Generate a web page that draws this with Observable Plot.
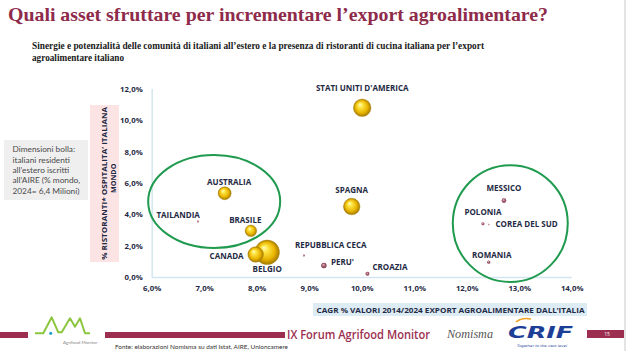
<!DOCTYPE html>
<html><head><meta charset="utf-8">
<script src="https://cdn.jsdelivr.net/npm/d3@7"></script>
<script src="https://cdn.jsdelivr.net/npm/@observablehq/plot@0.6"></script>
<style>
html,body{margin:0;padding:0;background:#fff;}
#wrap{position:relative;width:626px;height:351px;overflow:hidden;background:#fff;}
#deco{position:absolute;left:0;top:0;}
#chart{position:absolute;left:0;top:0;}
</style></head><body>
<div id="wrap">
<svg id="deco" width="626" height="351" xmlns="http://www.w3.org/2000/svg">
  <text x="8" y="21" font-family="Liberation Serif" font-weight="bold" font-size="19.5" fill="#8e2b4b" textLength="540" lengthAdjust="spacingAndGlyphs">Quali asset sfruttare per incrementare l’export agroalimentare?</text>
  <text x="32" y="49" font-family="Liberation Serif" font-weight="bold" font-size="11" fill="#1a1a1a" textLength="452" lengthAdjust="spacingAndGlyphs">Sinergie e potenzialità delle comunità di italiani all’estero e la presenza di ristoranti di cucina italiana per l’export</text>
  <text x="32" y="61" font-family="Liberation Serif" font-weight="bold" font-size="11" fill="#1a1a1a" textLength="92" lengthAdjust="spacingAndGlyphs">agroalimentare italiano</text>

  <rect x="4" y="140" width="84" height="60" fill="#efefef"/>
  <g font-family="Lato" font-size="8.3" fill="#4a4a4a">
    <text x="12.5" y="152">Dimensioni bolla:</text>
    <text x="12.5" y="162.5">italiani residenti</text>
    <text x="12.5" y="172.8">all’estero iscritti</text>
    <text x="12.5" y="183">all’AIRE (% mondo,</text>
    <text x="12.5" y="193.5">2024= 6,4 Milioni)</text>
  </g>

  <rect x="90" y="105" width="29" height="157" fill="#fce4e4"/>
  <text transform="translate(106.5,183.3) rotate(-90)" text-anchor="middle" font-family="Open Sans" font-weight="bold" font-size="7.2" fill="#1f2a44" textLength="153" lengthAdjust="spacingAndGlyphs">% RISTORANTI* OSPITALITA’ ITALIANA</text>
  <text transform="translate(115.5,178.3) rotate(-90)" text-anchor="middle" font-family="Open Sans" font-weight="bold" font-size="7.2" fill="#1f2a44">MONDO</text>

  <rect x="313" y="303" width="274" height="13" fill="#dcebf4"/>
  <text x="450.5" y="312.8" text-anchor="middle" font-family="Open Sans" font-weight="bold" font-size="7.8" fill="#1f2a44" textLength="268" lengthAdjust="spacingAndGlyphs">CAGR % VALORI 2014/2024 EXPORT AGROALIMENTARE  DALL’ITALIA</text>

  <rect x="0" y="332" width="28" height="6" fill="#9c2f4f"/>
  <rect x="105" y="332" width="180" height="6" fill="#9c2f4f"/>
  <rect x="587" y="330" width="39" height="8" fill="#9c2f4f"/>
  <text x="607" y="336" text-anchor="middle" font-family="Open Sans" font-size="5" fill="#fff">15</text>
  <text x="287" y="338.5" font-family="Open Sans" font-weight="600" font-size="12" fill="#9c2f4f" textLength="143" lengthAdjust="spacingAndGlyphs">IX Forum Agrifood Monitor</text>
  <text x="447" y="338" font-family="Liberation Serif" font-style="italic" font-size="13" fill="#555" textLength="46" lengthAdjust="spacingAndGlyphs">Nomisma</text>
  <path d="M516,322 Q522,317 531,319" stroke="#f0a020" stroke-width="1.6" fill="none"/>
  <text x="508" y="338.3" font-family="DejaVu Sans" font-weight="bold" font-style="italic" font-size="15" fill="#1d3e96" textLength="65" lengthAdjust="spacingAndGlyphs">CRIF</text>
  <text x="517" y="346.6" font-family="DejaVu Sans" font-style="italic" font-size="3.4" fill="#1d3e96" textLength="50" lengthAdjust="spacingAndGlyphs">Together to the next level</text>

  <polyline points="35,333.3 43.3,333.3 51.7,317.3 58.3,332.3 61.7,332.3 70,318.3 75,326.7 80,318.3 85,333.3 90,333.3" fill="none" stroke="#8cc63f" stroke-width="2" stroke-linejoin="round"/>
  <circle cx="50.7" cy="333.3" r="1.6" fill="#2aa3c8"/>
  <text x="63" y="344" font-family="Lato" font-size="4.5" fill="#888">Agrifood Monitor</text>
  <text x="115" y="348.5" font-family="Lato" font-size="5.5" fill="#333" textLength="173" lengthAdjust="spacingAndGlyphs">Fonte: elaborazioni Nomisma su dati Istat, AIRE, Unioncamere</text>
  <rect x="624" y="0" width="2" height="351" fill="#e4e4e4"/>
</svg>
<div id="chart"></div>
</div>
<script>
// ---- data ----
const countries = ["STATI UNITI D'AMERICA","SPAGNA","AUSTRALIA","TAILANDIA","BRASILE","CANADA","BELGIO","REPUBBLICA CECA","PERU'","CROAZIA","MESSICO","POLONIA","COREA DEL SUD","ROMANIA"];
const cagr =       [10.00, 9.80, 7.38, 6.87, 7.88, 7.97, 8.19, 8.89, 9.27, 10.10, 12.70, 12.30, 12.41, 12.41];
const ristoranti = [10.83, 4.53, 5.38, 3.57, 2.98, 1.47, 1.61, 1.40, 0.77, 0.24, 4.91, 3.43, 3.38, 0.98];
const aire =       [2.30, 2.05, 1.26, 0.03, 1.00, 1.81, 4.50, 0.03, 0.22, 0.12, 0.16, 0.07, 0.015, 0.07];
const xTicks = [6,7,8,9,10,11,12,13,14];
const yTicks = [0,2,4,6,8,10,12];
// annotation ellipses (data units)
const ellCx = [7.19, 12.83];
const ellCy = [4.82, 3.41];
const ellRx = [1.257, 1.095];
const ellRy = [2.97, 3.73];

// label layout (offsets in px)
const labelLayout = {
 "STATI UNITI D'AMERICA":[0,-19,"middle"],
 "SPAGNA":[0,-16,"middle"],
 "AUSTRALIA":[4.5,-11,"middle"],
 "TAILANDIA":[2,-6,"end"],
 "BRASILE":[-5.6,-10.6,"middle"],
 "CANADA":[-12,2,"end"],
 "BELGIO":[0,17,"middle"],
 "REPUBBLICA CECA":[-9,-10,"start"],
 "PERU'":[7,-3,"start"],
 "CROAZIA":[5,-6,"start"],
 "MESSICO":[0,-12,"middle"],
 "POLONIA":[0,-11,"middle"],
 "COREA DEL SUD":[6.7,0,"start"],
 "ROMANIA":[3,-7,"middle"]
};

const data = countries.map((c,i)=>({country:c, x:cagr[i], y:ristoranti[i], r:aire[i], big:aire[i]>=0.5}))
  .sort((a,b)=>b.r-a.r);
const fmt = d => d.toFixed(1).replace(".", ",") + "%";
const navy = "#1f2a44";
const axisCol = "#d3e6ef";

const labelMarks = data.map(d => {
  const [dx,dy,anchor] = labelLayout[d.country];
  return Plot.text([d], {x:"x", y:"y", text:"country", dx, dy, textAnchor:anchor,
    fontSize:8, fontWeight:"bold", fill:navy});
});

const plot = Plot.plot({
  width:626, height:351,
  marginLeft:151.7, marginRight:54.3, marginTop:89, marginBottom:74,
  style:{background:"transparent", fontFamily:"Open Sans", overflow:"visible"},
  x:{domain:[6,14]},
  y:{domain:[0,12]},
  r:{type:"sqrt", domain:[0,4.5], range:[0,12.3]},
  marks:[
    Plot.ruleY([0], {stroke:axisCol, strokeWidth:1.5}),
    Plot.ruleX([6], {y1:0, y2:12, stroke:axisCol, strokeWidth:1.5}),
    Plot.axisX({ticks:xTicks, tickSize:0, tickPadding:8, tickFormat:fmt, fontSize:7.8, fontWeight:"bold", fill:navy, label:null}),
    Plot.axisY({ticks:yTicks, tickSize:0, tickPadding:9.5, tickFormat:fmt, fontSize:7.8, fontWeight:"bold", fill:navy, label:null}),
    Plot.dot(data.filter(d=>d.big), {x:"x", y:"y", r:"r", fill:"url(#gold)", stroke:"#a88400", strokeWidth:0.4}),
    Plot.dot(data.filter(d=>!d.big), {x:"x", y:"y", r:"r", fill:"url(#mauve)"}),
    ...labelMarks
  ]
});

const svg = d3.select(plot);
const defs = svg.insert("defs", ":first-child");
const gold = defs.append("radialGradient").attr("id","gold").attr("cx","0.5").attr("cy","0.5").attr("r","0.5").attr("fx","0.36").attr("fy","0.3");
[[0,"#fffbd2"],[0.25,"#ffe84a"],[0.7,"#e9b500"],[1,"#a27800"]].forEach(([o,c])=>gold.append("stop").attr("offset",o).attr("stop-color",c));
const mauve = defs.append("radialGradient").attr("id","mauve").attr("cx","0.5").attr("cy","0.5").attr("r","0.5").attr("fx","0.38").attr("fy","0.32");
[[0,"#e6b6c0"],[0.5,"#b06a7c"],[1,"#7a3848"]].forEach(([o,c])=>mauve.append("stop").attr("offset",o).attr("stop-color",c));

const sx = plot.scale("x"), sy = plot.scale("y");
ellCx.forEach((cx,i)=>{
  const px = sx.apply(cx), py = sy.apply(ellCy[i]);
  const rx = sx.apply(cx + ellRx[i]) - px;
  const ry = py - sy.apply(ellCy[i] + ellRy[i]);
  svg.append("ellipse").attr("cx",px).attr("cy",py).attr("rx",rx).attr("ry",ry)
    .attr("fill","none").attr("stroke","#1f9a4e").attr("stroke-width",2);
});

document.getElementById("chart").appendChild(plot);
</script>
</body></html>
